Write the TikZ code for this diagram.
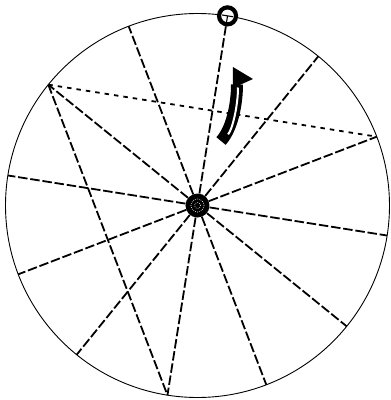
\documentclass[tikz,border=0pt]{standalone}
\usetikzlibrary{arrows.meta}

\begin{document}
\begin{tikzpicture}[
    x=1pt, y=1pt,
    rim/.style={draw, line width=0.9pt},
    spoke/.style={line width=1.8pt, dash pattern=on 9.5pt off 2.8pt},
    chord/.style={line width=1.8pt, dash pattern=on 4.5pt off 5pt},
    hub/.style={circle, fill=black, minimum size=24pt, inner sep=0pt},
    marker/.style={circle, draw, fill=white, line width=4.2pt, minimum size=17pt, inner sep=0pt}
]

\useasboundingbox (-197.5,-194.5) rectangle (193.5,205.5);

% -------------------------
% Disc and rim points
% -------------------------
\draw[rim] (0,0) circle (192);
\foreach \i in {0,...,11}
    \coordinate (p\i) at (81+30*\i:192);

\node[hub] (hub) at (0,0) {};
\draw[white, line width=0.6pt, dash pattern=on 0.7pt off 1.3pt] (hub.center) circle (6.5);
\draw[white, line width=0.6pt, dash pattern=on 0.7pt off 1.3pt] (hub.center) circle (3);

% -------------------------
% Spokes and chords
% -------------------------
\foreach \i in {1,...,11}
    \draw[spoke] (hub) -- (p\i);
\draw[spoke] (p2) -- (p6);
\draw[chord] (p2) -- (p10);

% Marker on the rim
\node[marker] (mark) at (p0) {};
\draw[spoke] (hub) -- (mark);
\begin{scope}[shift={(mark.center)}, rotate=-9]
    \draw[line width=1.1pt] (-5.5,0) -- (5.5,0);
    \draw[line width=1.1pt] (0,0) -- (0,-7);
\end{scope}

% -------------------------
% Turning arrow
% -------------------------
\draw[line width=12pt] (23.5,64.5) .. controls (34,76) and (39.5,100) .. (39.5,121);
\draw[white, line width=2pt, shorten <=9pt, shorten >=3pt]
    (24.5,64.5) .. controls (35,76) and (40.5,100) .. (40.5,121);
\fill (35.5,138.5) -- (55.5,126.5) -- (35.5,117.5) -- cycle;

\end{tikzpicture}
\end{document}
